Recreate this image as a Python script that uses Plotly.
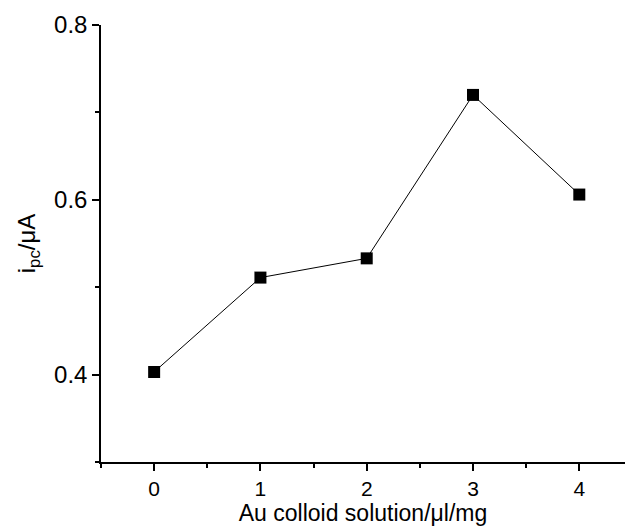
import plotly.graph_objects as go

x_vals = [0, 1, 2, 3, 4]
y_vals = [0.403, 0.511, 0.533, 0.720, 0.606]
x_title = "Au colloid solution/μl/mg"
y_title = "i<sub>pc</sub>/μA"

font_family = "Liberation Sans, Arial, sans-serif"

fig = go.Figure()
fig.add_trace(go.Scatter(
    x=x_vals, y=y_vals, mode="lines+markers",
    line=dict(color="black", width=1),
    marker=dict(symbol="square", size=12, color="black"),
    showlegend=False, cliponaxis=False,
))

fig.update_layout(
    width=625, height=527,
    margin=dict(l=101, r=0, t=25, b=65),
    paper_bgcolor="white", plot_bgcolor="white",
    font=dict(family=font_family, size=24, color="black"),
)
fig.update_xaxes(
    range=[-0.5, 4.43], tick0=0, dtick=1,
    showline=True, linecolor="black", linewidth=1.5,
    ticks="outside", ticklen=7, tickwidth=1.5, tickcolor="black",
    minor=dict(dtick=0.5, tick0=0, ticks="outside", ticklen=4, tickwidth=1.5, tickcolor="black", showgrid=False),
    showgrid=False, zeroline=False,
    tickfont=dict(size=21),
    title=dict(text=x_title, font=dict(size=23), standoff=2),
)
fig.update_yaxes(
    range=[0.3, 0.8], tick0=0.4, dtick=0.2, tickformat=".1f",
    showline=True, linecolor="black", linewidth=1.5,
    ticks="outside", ticklen=7, tickwidth=1.5, tickcolor="black",
    minor=dict(dtick=0.1, tick0=0.3, ticks="outside", ticklen=4, tickwidth=1.5, tickcolor="black", showgrid=False),
    showgrid=False, zeroline=False,
    tickfont=dict(size=24),
    title=dict(text=y_title, font=dict(size=24), standoff=12),
)

fig.write_html("out.html")
